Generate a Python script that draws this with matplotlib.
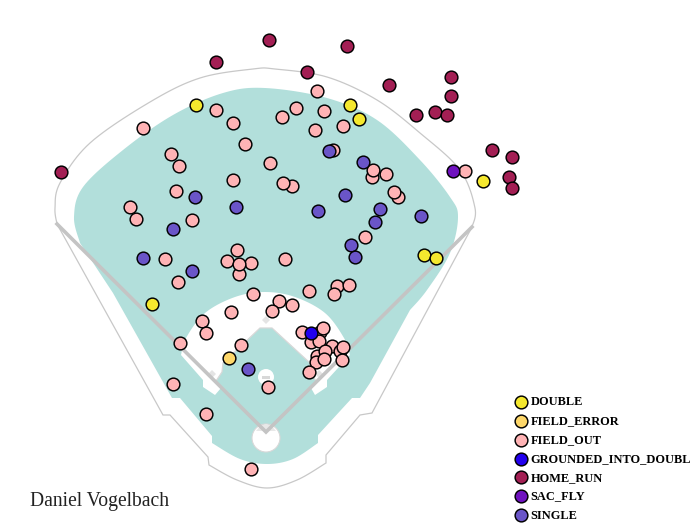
import numpy as np
import matplotlib
matplotlib.use("Agg")
import matplotlib.pyplot as plt
from matplotlib.patches import Polygon, Circle, Rectangle

plt.rcParams['font.family'] = ['Liberation Serif', 'DejaVu Serif']

# --- hit locations (x, y in chart units) ---
field_out = [(143,128),(216,110),(233,123),(245,144),(171,154),(179,166),(176,191),(233,180),
             (130,207),(136,219),(192,220),(237,250),(165,259),(227,261),(251,263),(239,274),(239,264),
             (178,282),(253,294),(317,91),(296,108),(282,117),(324,111),(315,130),(343,126),(333,150),
             (270,163),(372,177),(373,170),(386,174),(292,186),(283,183),(398,197),(394,192),(365,237),
             (285,259),(465,171),(337,286),(349,285),(334,294),(309,291),(279,301),(292,305),(272,311),
             (231,312),(202,321),(206,333),(180,343),(241,345),(302,332),(320,332),(323,328),(311,342),
             (319,341),(332,346),(340,351),(343,347),(317,356),(325,351),(316,362),(324,359),(342,360),
             (309,372),(268,387),(173,384),(206,414),(251,469)]
double = [(196,105),(350,105),(359,119),(483,181),(424,255),(436,258),(152,304)]
field_error = [(229,358)]
gidp = [(311,333)]
home_run = [(269,40),(347,46),(216,62),(307,72),(451,77),(389,85),(451,96),(416,115),(435,112),
            (447,115),(492,150),(512,157),(509,177),(512,188),(61,172)]
sac_fly = [(453,171)]
single = [(329,151),(363,162),(195,197),(236,207),(345,195),(318,211),(380,209),(421,216),(375,222),
          (173,229),(351,245),(355,257),(143,258),(192,271),(248,369)]

series_names = ['DOUBLE','FIELD_ERROR','FIELD_OUT','GROUNDED_INTO_DOUBLE_PLAY','HOME_RUN','SAC_FLY','SINGLE']
series_values = [double, field_error, field_out, gidp, home_run, sac_fly, single]
series_colors = ['#f5e82e','#fdd76a','#ffb3b5','#2200ee','#a31f54','#6f12bf','#6a55c8']
series_z = [6,6,5,7,6,7,6]
player = 'Daniel Vogelbach'

# --- ballpark outline ---
wall_arc = [(57,224),(55,208),(60,183),(90,143),(150,102),(200,78),(253,69),(275,69),(327,77),
            (377,100),(420,133),(460,170),(475,208),(472,227)]
wall_low = [(372,413),(360,415),(326,455),(326,463)]
wall_bottom = [(326,463),(297,480),(267,488),(237,480),(209,465)]
wall_low2 = [(208,457),(170,415),(163,415),(57,224)]

grass_arc = [(80,243),(74,217),(83,187),(123,150),(173,115),(223,93),(265,88),(327,98),(377,120),
             (420,160),(450,197),(458,217),(450,253),(427,290),(410,310)]
grass_low = [(370,383),(360,398),(352,398),(318,435),(318,443)]
grass_bottom = [(318,443),(293,459),(267,464),(240,459),(212,443)]
grass_low2 = [(212,436),(180,398),(172,398),(113,293)]

dirt_arc = [(181,355),(186,338),(205,313),(235,297),(265,292),(295,297),(325,313),(344,338),(350,355)]
dirt_low = [(327,380),(327,387),(315,395),(311,388),(266,432),(221,388),(215,395),(203,387),(203,380)]
inner_grass = [(260,328),(272,328),(310,363),(310,372),(316,381),(266,432),(216,381),(222,372),(223,363)]
bases = [(266,320),(212,374),(319,374)]
foul_line = [(57,224),(266,432),(472,227)]
home_circle = (266,438)
plate_top = [(261,425),(271,425),(276,431),(256,431)]
mound = (266,377)


def smooth(pts, n=12):
    p = np.array([pts[0]] + list(pts) + [pts[-1]], float)
    out = []
    for i in range(1, len(p) - 2):
        for t in np.linspace(0, 1, n, endpoint=False):
            out.append(0.5 * (2*p[i] + (p[i+1]-p[i-1])*t + (2*p[i-1]-5*p[i]+4*p[i+1]-p[i+2])*t**2
                              + (3*p[i]-p[i-1]-3*p[i+1]+p[i+2])*t**3))
    out.append(p[-2])
    return [tuple(q) for q in out]


fig = plt.figure(figsize=(6.9, 5.31), dpi=100)
ax = fig.add_axes([0, 0, 1, 1])
ax.set_xlim(0, 690)
ax.set_ylim(531, 0)
ax.axis('off')

teal = '#b2dfdb'
line = '#c8c8c8'
wall = smooth(wall_arc) + wall_low + smooth(wall_bottom) + wall_low2
ax.add_patch(Polygon(wall, closed=True, fc='white', ec=line, lw=0.9, zorder=1))
grass = smooth(grass_arc) + grass_low + smooth(grass_bottom) + grass_low2
ax.add_patch(Polygon(grass, closed=True, fc=teal, ec='none', zorder=2))
dirt = smooth(dirt_arc) + dirt_low
ax.add_patch(Polygon(dirt, closed=True, fc='white', ec='none', zorder=3))
ax.add_patch(Polygon(inner_grass, closed=True, fc=teal, ec='#d8d8d8', lw=0.9, zorder=3.1))
for bx, by in bases:
    ax.add_patch(Polygon([(bx-4,by),(bx,by-4),(bx+4,by),(bx,by+4)], closed=True, fc='#e4e4e4', ec='none', zorder=3.2))
ax.add_patch(Circle(mound, 8, fc='white', ec='none', zorder=3.2))
ax.add_patch(Rectangle((mound[0]-4, mound[1]-1.5), 8, 3, fc='#d8d8d8', ec='none', zorder=3.3))
ax.add_patch(Circle(home_circle, 14, fc='white', ec='#d8d8d8', lw=0.8, zorder=3.4))
ax.add_patch(Polygon(plate_top, closed=True, fc='#e8e8e8', ec='none', zorder=3.5))
ax.plot(*zip(*foul_line), color='#c4c4c4', lw=2.6, solid_joinstyle='miter', zorder=4)

for name, vals, col, z in zip(series_names, series_values, series_colors, series_z):
    xs, ys = zip(*vals)
    ax.scatter(xs, ys, s=84, c=col, edgecolors='black', linewidths=1.05, zorder=z, label=name, clip_on=False)

leg = ax.legend(loc='upper left', bbox_to_anchor=(511/690, 1-396/531), frameon=False, borderpad=0,
                borderaxespad=0, handletextpad=0.0, labelspacing=0.56, handlelength=1.6,
                prop={'size': 8.9, 'weight': 'bold', 'family': 'Liberation Serif'})
leg.set_zorder(10)

ax.text(30, 506, player, fontsize=14.1, color='#222222', ha='left', va='baseline', zorder=10)

fig.savefig('out.png', dpi=100)
